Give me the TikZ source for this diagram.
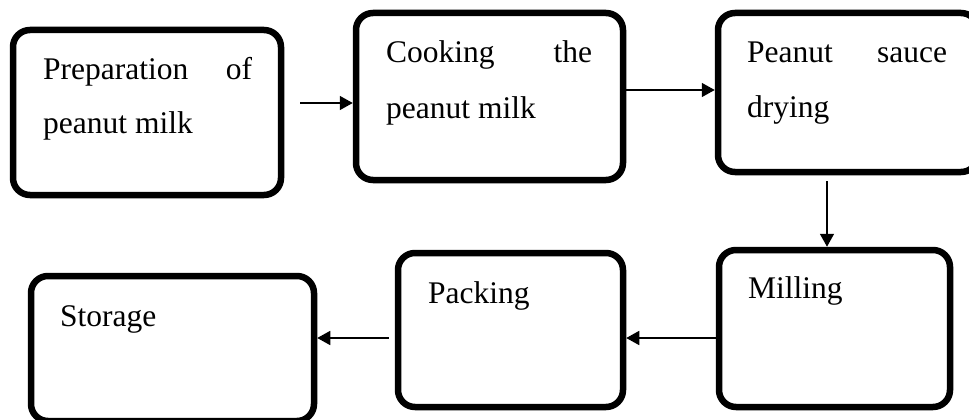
\documentclass[tikz,border=0pt]{standalone}
\usepackage{fontspec}
\setmainfont{Liberation Serif}
\usetikzlibrary{arrows.meta}
\begin{document}
\begin{tikzpicture}[x=1pt,y=-1pt,
  box/.style={draw=black,line width=6.5pt,rounded corners=17pt,inner sep=0pt,fill=white},
  arr/.style={line width=1.6pt,-{Triangle[length=13pt,width=14pt]}},
  txt/.style={inner sep=0pt,anchor=base west,font=\fontsize{31.5}{37}\selectfont}]
\useasboundingbox (0,0) rectangle (969,420);
\clip (0,0) rectangle (969,420);
\node[box,minimum width=268pt,minimum height=165pt] (b1) at (147,112.5) {};
\node[box,minimum width=267pt,minimum height=167pt] (b2) at (489.5,96.5) {};
\node[box,minimum width=260pt,minimum height=159pt] (b3) at (848,92.5) {};
\node[box,minimum width=231pt,minimum height=157pt] (b4) at (834.5,328.5) {};
\node[box,minimum width=225pt,minimum height=154pt] (b5) at (510.5,330) {};
\node[box,minimum width=283pt,minimum height=145pt] (b6) at (172.5,348.5) {};
\node[txt] (t1a) at (43,79) {\hbox to 209pt{Preparation\hfill of}};
\node[txt] (t1b) at (43,133) {peanut milk};
\node[txt] (t2a) at (386,63) {\hbox to 206pt{Cooking\hfill the}};
\node[txt] (t2b) at (386,118) {peanut milk};
\node[txt] (t3a) at (747,63) {\hbox to 200pt{Peanut\hfill sauce}};
\node[txt] (t3b) at (747,117) {drying};
\node[txt] (t4) at (748,298) {Milling};
\node[txt] (t5) at (428,303) {Packing};
\node[txt] (t6) at (60,326) {Storage};
\coordinate (y1) at (0,103);
\coordinate (y2) at (0,90);
\coordinate (x3) at (827,0);
\coordinate (y4) at (0,338);
\draw[arr,shorten <=16pt] (b1.east |- y1) -- (b2.west |- y1);
\draw[arr] (b2.east |- y2) -- (b3.west |- y2);
\draw[arr,shorten <=6pt] (b3.south -| x3) -- (b4.north -| x3);
\draw[arr] (b4.west |- y4) -- (b5.east |- y4);
\draw[arr,shorten <=6pt] (b5.west |- y4) -- (b6.east |- y4);
\end{tikzpicture}
\end{document}
